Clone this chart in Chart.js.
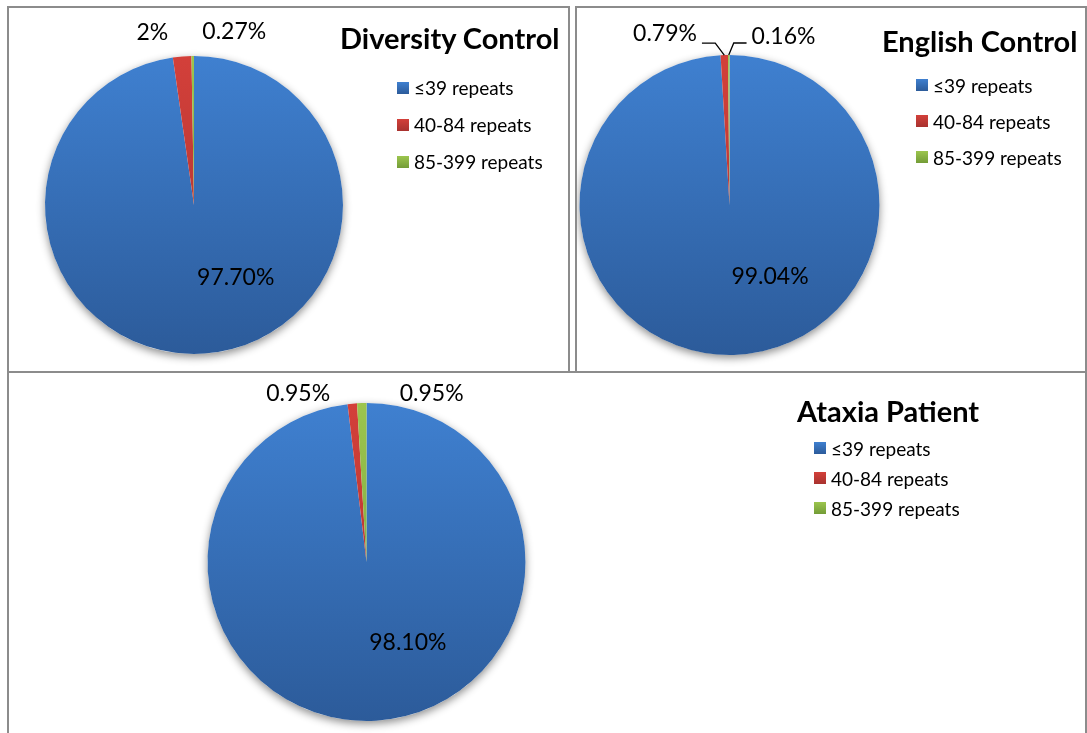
<!DOCTYPE html>
<html>
<head>
<meta charset="utf-8">
<script src="https://cdn.jsdelivr.net/npm/chart.js@4.4.1/dist/chart.umd.min.js"></script>
<style>
    body { margin: 0; background: #fff; font-family: Lato, sans-serif; }
    #page { position: relative; width: 1087px; height: 733px; overflow: hidden; }
    .panel { position: absolute; box-sizing: border-box; border: 2px solid #8c8c8c; }
    canvas { position: absolute; }
    .title { position: absolute; font-weight: bold; font-size: 29px; line-height: 29px; color: #000; white-space: nowrap; }
    .legend { position: absolute; margin: 0; padding: 0; list-style: none; font-size: 19px; color: #000; }
    .legend li { display: flex; align-items: center; white-space: nowrap; }
    .legend .box { width: 12px; height: 12px; margin-right: 5px; flex: none; }
</style>
</head>
<body>
<div id="page">
    <div class="panel" style="left:7px;top:6px;width:563px;height:367px"></div>
    <div class="panel" style="left:575px;top:6px;width:512px;height:367px"></div>
    <div class="panel" style="left:7px;top:371px;width:1080px;height:400px"></div>
</div>

<script>
    // Repeat-length groups and the share of alleles in each (percent)
    const categories = ['≤39 repeats', '40-84 repeats', '85-399 repeats'];
    const diversityValues = [97.70, 2, 0.27];
    const englishValues = [99.04, 0.79, 0.16];
    const ataxiaValues = [98.10, 0.95, 0.95];
    const chartTitles = ['Diversity Control', 'English Control', 'Ataxia Patient'];

    // top / bottom colour of each slice gradient
    const sliceColors = [
        ['#3f80d0', '#2c5b9a'],
        ['#d3403a', '#a8322f'],
        ['#9cc54e', '#739c37']
    ];

    // where each pie sits on the page, plus title / legend / label placement
    const panels = [
        {
            values: diversityValues, title: chartTitles[0],
            canvas: { left: 9, top: 8, width: 559, height: 363 },
            pie: { cx: 194, cy: 205, r: 149 },
            titlePos: { left: 340, top: 23 },
            legendPos: { left: 397, top: 69, row: 37 },
            spots: [{ dx: 0.28, dy: 0.48 }, { dx: -0.28, dy: -1.16 }, { dx: 0.27, dy: -1.17 }]
        },
        {
            values: englishValues, title: chartTitles[1],
            canvas: { left: 577, top: 8, width: 508, height: 363 },
            pie: { cx: 729.5, cy: 205, r: 150 },
            titlePos: { left: 882, top: 26 },
            legendPos: { left: 916, top: 67, row: 36 },
            spots: [{ dx: 0.27, dy: 0.47 }, { dx: -0.43, dy: -1.15, leader: -1 }, { dx: 0.36, dy: -1.13, leader: 1 }]
        },
        {
            values: ataxiaValues, title: chartTitles[2],
            canvas: { left: 9, top: 373, width: 1076, height: 360 },
            pie: { cx: 366.5, cy: 562, r: 159 },
            titlePos: { left: 797, top: 396 },
            legendPos: { left: 814, top: 433, row: 30 },
            spots: [{ dx: 0.26, dy: 0.50 }, { dx: -0.43, dy: -1.06 }, { dx: 0.41, dy: -1.06 }]
        }
    ];

    function formatPct(v) {
        return Number.isInteger(v) ? v + '%' : v.toFixed(2) + '%';
    }

    // soft drop shadow under the whole pie
    const pieShadow = {
        id: 'pieShadow',
        beforeDatasetsDraw(chart) {
            const arc = chart.getDatasetMeta(0).data[0];
            if (!arc) return;
            const ctx = chart.ctx;
            ctx.save();
            ctx.shadowColor = 'rgba(0, 0, 0, 0.45)';
            ctx.shadowBlur = 8;
            ctx.shadowOffsetY = 3;
            ctx.fillStyle = '#fff';
            ctx.beginPath();
            ctx.arc(arc.x, arc.y, arc.outerRadius, 0, Math.PI * 2);
            ctx.fill();
            ctx.restore();
        }
    };

    // percentage labels, with elbow leader lines where asked
    const pieLabels = {
        id: 'pieLabels',
        afterDatasetsDraw(chart, args, opts) {
            const ctx = chart.ctx;
            const meta = chart.getDatasetMeta(0);
            const values = chart.data.datasets[0].data;
            ctx.save();
            ctx.font = '23px Lato';
            ctx.fillStyle = '#000';
            ctx.textAlign = 'center';
            ctx.textBaseline = 'alphabetic';
            meta.data.forEach((arc, i) => {
                const spot = opts.spots[i];
                const r = arc.outerRadius;
                const x = arc.x + spot.dx * r;
                const y = arc.y + spot.dy * r;
                const text = formatPct(values[i]);
                ctx.fillText(text, x, y + 8);
                if (spot.leader) {
                    const mid = (arc.startAngle + arc.endAngle) / 2;
                    const px = arc.x + Math.cos(mid) * r;
                    const py = arc.y + Math.sin(mid) * r;
                    const half = ctx.measureText(text).width / 2;
                    const ey = py - 12;
                    const ex = spot.leader < 0 ? px - 9 : px + 5;
                    const tx = spot.leader < 0 ? x + half + 5 : x - half - 5;
                    ctx.strokeStyle = '#000';
                    ctx.lineWidth = 1.3;
                    ctx.beginPath();
                    ctx.moveTo(px, py);
                    ctx.lineTo(ex, ey);
                    ctx.lineTo(tx, ey);
                    ctx.stroke();
                }
            });
            ctx.restore();
        }
    };

    function sliceGradient(context) {
        const chart = context.chart;
        const area = chart.chartArea;
        const pair = sliceColors[context.dataIndex];
        if (!area) return pair[0];
        const g = chart.ctx.createLinearGradient(0, area.top, 0, area.bottom);
        g.addColorStop(0, pair[0]);
        g.addColorStop(1, pair[1]);
        return g;
    }

    const page = document.getElementById('page');

    panels.forEach(p => {
        const c = p.canvas;
        const canvas = document.createElement('canvas');
        canvas.width = c.width;
        canvas.height = c.height;
        canvas.style.left = c.left + 'px';
        canvas.style.top = c.top + 'px';
        page.appendChild(canvas);

        new Chart(canvas.getContext('2d'), {
            type: 'pie',
            data: {
                labels: categories,
                datasets: [{
                    data: p.values,
                    backgroundColor: sliceGradient,
                    borderWidth: 0
                }]
            },
            options: {
                responsive: false,
                animation: false,
                layout: {
                    padding: {
                        left: p.pie.cx - p.pie.r - c.left,
                        top: p.pie.cy - p.pie.r - c.top,
                        right: c.left + c.width - (p.pie.cx + p.pie.r),
                        bottom: c.top + c.height - (p.pie.cy + p.pie.r)
                    }
                },
                plugins: {
                    legend: { display: false },
                    tooltip: { enabled: false },
                    pieLabels: { spots: p.spots }
                }
            },
            plugins: [pieShadow, pieLabels]
        });

        // title
        const title = document.createElement('div');
        title.className = 'title';
        title.textContent = p.title;
        title.style.left = p.titlePos.left + 'px';
        title.style.top = p.titlePos.top + 'px';
        page.appendChild(title);

        // legend
        const ul = document.createElement('ul');
        ul.className = 'legend';
        ul.style.left = p.legendPos.left + 'px';
        ul.style.top = p.legendPos.top + 'px';
        categories.forEach((label, i) => {
            const li = document.createElement('li');
            li.style.height = p.legendPos.row + 'px';
            const box = document.createElement('span');
            box.className = 'box';
            box.style.background = 'linear-gradient(' + sliceColors[i][0] + ', ' + sliceColors[i][1] + ')';
            const txt = document.createElement('span');
            txt.textContent = label;
            li.appendChild(box);
            li.appendChild(txt);
            ul.appendChild(li);
        });
        page.appendChild(ul);
    });
</script>
</body>
</html>
